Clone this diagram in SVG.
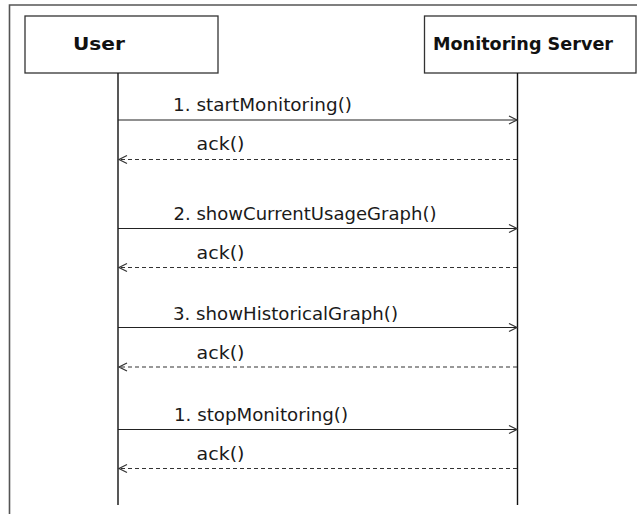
<svg xmlns="http://www.w3.org/2000/svg" width="637" height="514" viewBox="0 0 637 514">
  <style>
    .frame { fill: none; stroke: #555; stroke-width: 1.6; }
    .box { fill: #fff; stroke: #333; stroke-width: 1.3; }
    .title { font-family: "DejaVu Sans", Verdana, sans-serif; font-weight: bold; font-size: 17px; fill: #111; }
    .lifeline { stroke: #111; stroke-width: 1.4; }
    .msg { stroke: #222; stroke-width: 1.2; fill: none; }
    .ret { stroke: #333; stroke-width: 1.2; stroke-dasharray: 4 3; fill: none; }
    .lbl { font-family: "DejaVu Sans", Verdana, sans-serif; font-size: 17px; fill: #1a1a1a; }
  </style>
  <defs>
    <marker id="open" markerUnits="userSpaceOnUse" markerWidth="12" markerHeight="12" refX="9" refY="5" orient="auto">
      <path d="M1,1 L9,5 L1,9" fill="none" stroke="#333" stroke-width="1.2"/>
    </marker>
  </defs>
  <rect width="637" height="514" fill="#fff"/>
  <path class="frame" d="M9.5,514 L9.5,5 L637,5"/>

  <g id="user">
    <rect class="box" x="25" y="16" width="193" height="57"/>
    <text class="title" x="73" y="50" textLength="52" lengthAdjust="spacingAndGlyphs">User</text>
    <line class="lifeline" x1="118" y1="73" x2="118" y2="505"/>
  </g>
  <g id="server">
    <rect class="box" x="424.5" y="16" width="211.5" height="57"/>
    <text class="title" x="433" y="50" textLength="180" lengthAdjust="spacingAndGlyphs">Monitoring Server</text>
    <line class="lifeline" x1="517.5" y1="73" x2="517.5" y2="505"/>
  </g>

  <g id="connectors">
    <line class="msg" x1="118" y1="120" x2="517" y2="120" marker-end="url(#open)"/>
    <line class="ret" x1="517" y1="159.5" x2="119" y2="159.5" marker-end="url(#open)"/>
    <line class="msg" x1="118" y1="228.5" x2="517" y2="228.5" marker-end="url(#open)"/>
    <line class="ret" x1="517" y1="267.5" x2="119" y2="267.5" marker-end="url(#open)"/>
    <line class="msg" x1="118" y1="327.5" x2="517" y2="327.5" marker-end="url(#open)"/>
    <line class="ret" x1="517" y1="367" x2="119" y2="367" marker-end="url(#open)"/>
    <line class="msg" x1="118" y1="429.5" x2="517" y2="429.5" marker-end="url(#open)"/>
    <line class="ret" x1="517" y1="468.5" x2="119" y2="468.5" marker-end="url(#open)"/>
  </g>

  <g id="labels">
    <text class="lbl" x="173" y="111" textLength="179" lengthAdjust="spacingAndGlyphs">1. startMonitoring()</text>
    <text class="lbl" x="196.5" y="150" textLength="48" lengthAdjust="spacingAndGlyphs">ack()</text>
    <text class="lbl" x="173.5" y="220" textLength="263" lengthAdjust="spacingAndGlyphs">2. showCurrentUsageGraph()</text>
    <text class="lbl" x="196.5" y="259" textLength="48" lengthAdjust="spacingAndGlyphs">ack()</text>
    <text class="lbl" x="173" y="319.5" textLength="225" lengthAdjust="spacingAndGlyphs">3. showHistoricalGraph()</text>
    <text class="lbl" x="196.5" y="358.5" textLength="48" lengthAdjust="spacingAndGlyphs">ack()</text>
    <text class="lbl" x="174" y="421" textLength="174" lengthAdjust="spacingAndGlyphs">1. stopMonitoring()</text>
    <text class="lbl" x="196.5" y="460" textLength="48" lengthAdjust="spacingAndGlyphs">ack()</text>
  </g>
</svg>
